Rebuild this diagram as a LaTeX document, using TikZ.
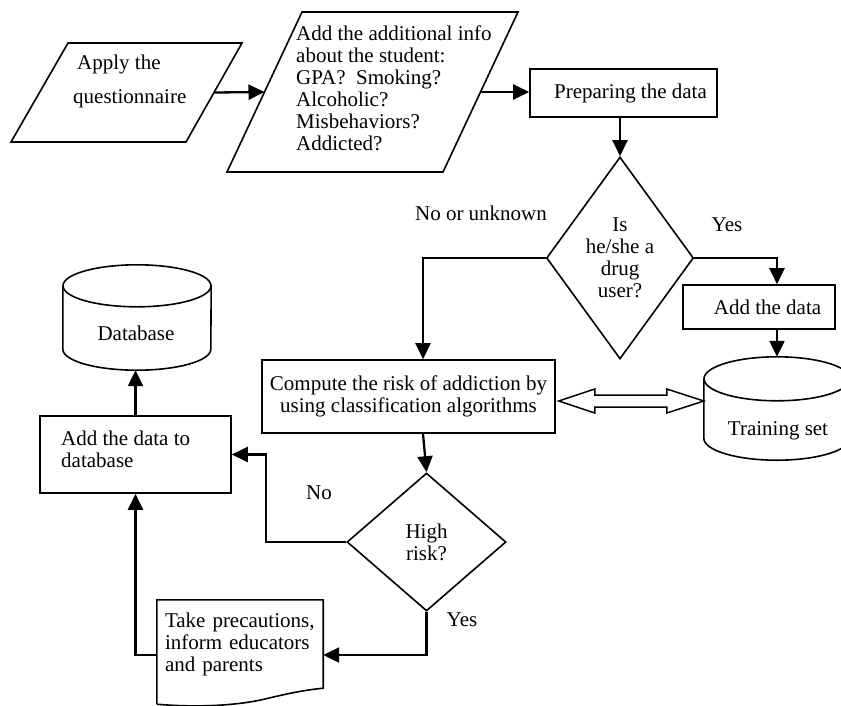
\documentclass[tikz,border=0pt]{standalone}
\usepackage{fontspec}
\setmainfont{Liberation Serif}
\usetikzlibrary{arrows.meta,shapes.geometric,calc}
\begin{document}
\begin{tikzpicture}[x=1pt,y=-1pt,
  shp/.style={draw=black, line width=1.6pt},
  conn/.style={draw=black, line width=2.3pt, -{Triangle[length=16pt,width=15pt]}},
  fnt/.style={font=\fontsize{21pt}{22pt}\selectfont},
  txt/.style={fnt, inner sep=0pt},
  box/.style={shp, rectangle, inner sep=0pt, fnt, align=center},
  dia/.style={shp, diamond, inner sep=0pt, fnt, align=center},
  cylbox/.style={rectangle, inner sep=0pt, draw=none},
]
\useasboundingbox (0,0) rectangle (841,705);

% parallelogram 1
\coordinate (p1tl) at (68,43);
\coordinate (p1tr) at (242,43);
\coordinate (p1br) at (186,142);
\coordinate (p1bl) at (11,142);
\draw[shp] (p1tl) -- (p1tr) -- (p1br) -- (p1bl) -- cycle;
\coordinate (p1e) at ($(p1tr)!.5!(p1br)$);
\node[txt, anchor=west, align=left] (p1t) at (73,81) {\hspace*{4pt}Apply the\\[12pt]questionnaire};

% parallelogram 2
\coordinate (p2tl) at (302,12);
\coordinate (p2tr) at (518,12);
\coordinate (p2br) at (443,172);
\coordinate (p2bl) at (227,172);
\draw[shp] (p2tl) -- (p2tr) -- (p2br) -- (p2bl) -- cycle;
\coordinate (p2w) at ($(p2tl)!.5!(p2bl)$);
\coordinate (p2e) at ($(p2tr)!.5!(p2br)$);
\node[txt, anchor=north west, align=left] (p2t) at (296,26) {Add the additional info\\about the student:\\GPA?~~Smoking?\\Alcoholic?\\Misbehaviors?\\Addicted?};

% boxes
\node[box, minimum width=187pt, minimum height=48pt] (prep) at (623.5,93) {\hspace*{14pt}Preparing the data};
\node[dia, aspect=0.728, minimum width=147pt, minimum height=202pt] (du) at (620,258) {Is\\he/she a\\drug\\user?};
\node[box, minimum width=152pt, minimum height=44pt] (ad) at (759,307) {\hspace*{17pt}Add the data};
\node[box, minimum width=293pt, minimum height=73pt] (comp) at (408.5,396.5) {Compute the risk of addiction by\\using classification algorithms};
\node[dia, aspect=1.15, minimum width=159pt, minimum height=138pt] (hr) at (426.5,542) {High\\risk?};
\node[box, minimum width=191pt, minimum height=77pt] (adb) at (135.5,454.5) {};
\node[txt, anchor=west, align=left] (adbt) at (61,449) {Add the data to\\database};

% training set cylinder
\node[cylbox, minimum width=146pt, minimum height=103pt] (ts) at (777,408.5) {};
\draw[shp] ($(ts.north)+(0,22)$) ellipse [x radius=73, y radius=22];
\draw[shp] ($(ts.north west)+(0,22)$) -- ($(ts.south west)+(0,-22)$) arc[start angle=180, end angle=0, x radius=73, y radius=22] -- ($(ts.north east)+(0,22)$);
\node[txt] (tst) at (778,431) {Training set};

% database cylinder
\node[cylbox, minimum width=148pt, minimum height=105pt] (db) at (137,317.5) {};
\draw[shp] ($(db.north)+(0,21)$) ellipse [x radius=74, y radius=21];
\draw[shp] ($(db.north west)+(0,21)$) -- ($(db.south west)+(0,-21)$) arc[start angle=180, end angle=0, x radius=74, y radius=21] -- ($(db.north east)+(0,21)$);
\node[txt] (dbt) at (136,333) {Database};

% document shape
\node[txt, minimum width=166pt, minimum height=88pt, text width=150pt, align=left] (tp) at (240,644) {Take precautions,\\inform educators\\and parents};
\draw[shp] ($(tp.south west)+(0,16)$) -- (tp.north west) -- (tp.north east) -- (tp.south east)
  .. controls (305,690) and (290,693) .. (265,699) .. controls (240,705) and (200,708) .. ($(tp.south west)+(0,16)$);

% connectors
\draw[conn] (p1e) -- (p2w);
\draw[conn] (p2e) -- (p2e -| prep.west);
\draw[conn] (prep.south -| du.north) -- (du.north);
\draw[conn] (du.west) -| ($(comp.north)+(14.5,0)$);
\draw[conn] (du.east) -| (ad.north -| ts.north);
\draw[conn] (ad.south -| ts.north) -- (ts.north);
\draw[conn] ($(comp.south)+(14.5,0)$) -- (hr.north);
\draw[conn] (hr.west) -- ++(-80,0) |- (adb.east);
\draw[conn] (hr.south) |- ($(tp.east)+(0,11)$);
\draw[conn] ($(tp.west)+(0,11)$) -| (adb.south);
\draw[conn] (adb.north) -- (adb.north |- db.south);

% hollow double arrow
\coordinate (harL) at ($(comp.east)+(3,4.5)$);
\coordinate (harR) at (ts.west |- harL);
\draw[draw=black, line width=1.5pt, fill=white] (harL) -- ++(36,-12) -- ++(0,6) -- ($(harR)+(-37,-6)$) -- ++(0,-6) -- (harR) -- ++(-37,12) -- ++(0,-6) -- ($(harL)+(36,6)$) -- ++(0,6) -- cycle;

% labels
\node[txt] (lno1) at (481,213) {No or unknown};
\node[txt] (lyes1) at (727,225) {Yes};
\node[txt] (lno2) at (319,493) {No};
\node[txt] (lyes2) at (462,620) {Yes};
\end{tikzpicture}
\end{document}
